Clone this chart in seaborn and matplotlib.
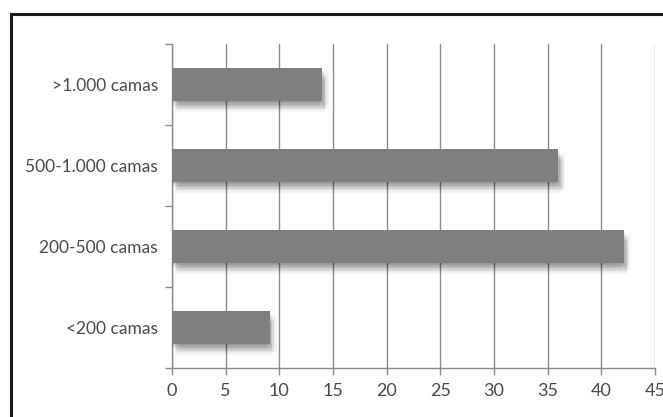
import matplotlib
matplotlib.use("Agg")
import matplotlib.pyplot as plt
import matplotlib.patches as mpatches
import matplotlib.patheffects as pe
import seaborn as sns
import pandas as pd

categories = [">1.000 camas", "500-1.000 camas", "200-500 camas", "<200 camas"]
values = [14.0, 36.0, 42.1, 9.1]
x_ticks = [0, 5, 10, 15, 20, 25, 30, 35, 40, 45]

sns.set_theme(style="white")
plt.rcParams['font.family'] = ['Lato', 'DejaVu Sans']

df = pd.DataFrame({"cat": categories, "val": values})

fig = plt.figure(figsize=(6.63, 4.17), dpi=100)
ax = fig.add_axes([172/663, 1-368/417, (655-172)/663, (368-44)/417])

sns.barplot(data=df, x="val", y="cat", order=categories, color="#7f7f7f",
            saturation=1, width=0.4, ax=ax, zorder=3)

shadow = [pe.SimplePatchShadow(offset=(dx, dy), shadow_rgbFace="black", alpha=0.04)
          for dx, dy in [(0, -1), (1, -2), (1, -3), (2, -4), (2, -5), (3, -6), (3, -7),
                         (2, -8), (-1, -2), (-2, -4), (4, -3), (5, -5)]] + [pe.Normal()]
for p in ax.patches:
    p.set_path_effects(shadow)
    p.set_edgecolor("none")

ax.set_xlim(0, 45)
ax.set_ylim(3.5, -0.5)
ax.set_xticks(x_ticks)
ax.set_xticklabels([str(t) for t in x_ticks])
ax.set_xlabel("")
ax.set_ylabel("")

ax.grid(axis="x", color="#8c8c8c", linewidth=1, zorder=0)
ax.grid(axis="y", visible=False)
ax.set_axisbelow(True)

for s in ["top", "right"]:
    ax.spines[s].set_visible(False)
for s in ["left", "bottom"]:
    ax.spines[s].set_color("#8c8c8c")
    ax.spines[s].set_linewidth(1)

ax.set_yticks([-0.5, 0.5, 1.5, 2.5, 3.5], minor=True)
ax.tick_params(axis="y", which="major", length=0, pad=10, labelsize=12.5, labelcolor="#4a4a4a")
ax.tick_params(axis="y", which="minor", length=5, width=1, color="#8c8c8c", left=True)
ax.tick_params(axis="x", which="major", length=5, width=1, color="#8c8c8c", bottom=True,
               labelsize=13, labelcolor="#4a4a4a", pad=6)

frame = mpatches.Rectangle((11/663, -0.1), 1.2, 1 - 14/417 + 0.1, transform=fig.transFigure,
                           fill=False, edgecolor="#1a1a1a", linewidth=2.2, clip_on=False)
fig.patches.append(frame)

fig.savefig("out.png", dpi=100)
